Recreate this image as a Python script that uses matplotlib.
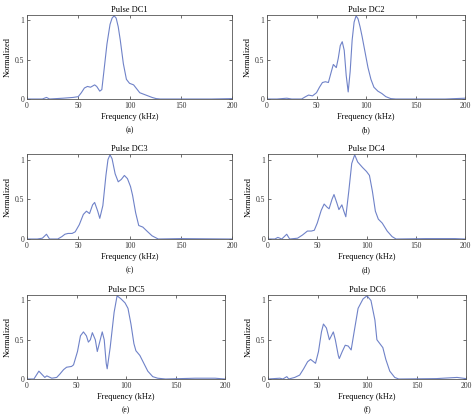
import matplotlib
matplotlib.use("Agg")
import matplotlib.pyplot as plt

# ---- data (frequency kHz, normalized amplitude) ----
f_dc1 = [0, 15, 19, 22, 35, 45, 50, 53, 56, 59, 62, 66, 68, 71, 73, 75, 78, 81, 83, 85, 87, 89, 91, 94, 97, 100, 104, 107, 110, 114, 118, 122, 126, 130, 180, 200]
a_dc1 = [0, 0, 0.02, 0, 0.01, 0.02, 0.03, 0.08, 0.14, 0.16, 0.15, 0.18, 0.16, 0.10, 0.12, 0.35, 0.70, 0.95, 1.03, 1.06, 1.03, 0.92, 0.75, 0.45, 0.25, 0.20, 0.18, 0.13, 0.08, 0.06, 0.04, 0.02, 0.005, 0, 0, 0.005]

f_dc2 = [0, 10, 20, 25, 35, 39, 42, 46, 50, 53, 56, 59, 62, 65, 67, 70, 72, 74, 76, 78, 80, 82, 84, 86, 88, 90, 92, 94, 96, 99, 102, 105, 108, 112, 116, 120, 125, 130, 180, 200]
a_dc2 = [0, 0, 0.01, 0, 0, 0.03, 0.05, 0.04, 0.08, 0.15, 0.21, 0.22, 0.21, 0.35, 0.44, 0.40, 0.52, 0.68, 0.73, 0.62, 0.30, 0.09, 0.35, 0.75, 0.98, 1.06, 1.02, 0.92, 0.80, 0.60, 0.40, 0.25, 0.15, 0.10, 0.07, 0.03, 0.005, 0, 0, 0.01]

f_dc3 = [0, 10, 15, 19, 22, 30, 34, 37, 40, 44, 47, 51, 55, 58, 61, 64, 66, 69, 71, 74, 77, 79, 81, 83, 86, 89, 92, 95, 98, 101, 103, 106, 109, 113, 117, 122, 128, 150, 200]
a_dc3 = [0, 0, 0.01, 0.06, 0, 0, 0.03, 0.06, 0.07, 0.07, 0.09, 0.18, 0.31, 0.35, 0.32, 0.43, 0.46, 0.35, 0.26, 0.42, 0.80, 1.00, 1.06, 1.01, 0.82, 0.72, 0.75, 0.80, 0.76, 0.66, 0.55, 0.33, 0.17, 0.15, 0.10, 0.04, 0, 0.005, 0]

f_dc4 = [0, 7, 10, 14, 19, 22, 30, 35, 40, 44, 47, 50, 54, 57, 60, 62, 65, 67, 70, 72, 75, 77, 79, 82, 85, 88, 91, 96, 100, 103, 106, 109, 112, 116, 121, 126, 130, 160, 190, 200]
a_dc4 = [0, 0, 0.02, 0, 0.06, 0, 0.01, 0.05, 0.10, 0.10, 0.11, 0.20, 0.36, 0.44, 0.40, 0.38, 0.50, 0.56, 0.45, 0.37, 0.43, 0.35, 0.28, 0.60, 0.95, 1.06, 0.97, 0.90, 0.85, 0.80, 0.60, 0.35, 0.25, 0.20, 0.10, 0.03, 0, 0.005, 0.005, 0]

f_dc5 = [0, 7, 10, 12, 15, 18, 20, 25, 30, 33, 37, 40, 45, 47, 51, 54, 57, 60, 62, 64, 66, 69, 71, 74, 76, 78, 80, 81, 84, 88, 91, 95, 99, 102, 105, 108, 110, 114, 118, 122, 127, 132, 140, 170, 190, 200]
a_dc5 = [0, 0, 0.06, 0.10, 0.06, 0.02, 0.04, 0.01, 0.02, 0.06, 0.12, 0.15, 0.16, 0.18, 0.35, 0.55, 0.60, 0.55, 0.47, 0.50, 0.59, 0.50, 0.35, 0.50, 0.60, 0.50, 0.20, 0.13, 0.40, 0.85, 1.06, 1.02, 0.97, 0.90, 0.70, 0.45, 0.36, 0.30, 0.20, 0.10, 0.03, 0.01, 0, 0.01, 0.01, 0]

f_dc6 = [0, 12, 15, 19, 21, 27, 32, 36, 40, 43, 46, 48, 51, 54, 56, 59, 62, 64, 66, 68, 71, 72, 75, 78, 81, 84, 87, 91, 96, 100, 104, 108, 110, 113, 116, 119, 123, 128, 132, 170, 191, 200]
a_dc6 = [0, 0.01, 0, 0.03, 0, 0.02, 0.05, 0.13, 0.22, 0.25, 0.22, 0.20, 0.35, 0.60, 0.70, 0.65, 0.50, 0.55, 0.60, 0.50, 0.30, 0.26, 0.35, 0.43, 0.42, 0.37, 0.60, 0.90, 1.02, 1.06, 1.00, 0.75, 0.50, 0.45, 0.40, 0.25, 0.10, 0.02, 0, 0.005, 0.02, 0.005]

titles = ["Pulse DC1", "Pulse DC2", "Pulse DC3", "Pulse DC4", "Pulse DC5", "Pulse DC6"]
letters = ["(a)", "(b)", "(c)", "(d)", "(e)", "(f)"]
series = [(f_dc1, a_dc1), (f_dc2, a_dc2), (f_dc3, a_dc3),
          (f_dc4, a_dc4), (f_dc5, a_dc5), (f_dc6, a_dc6)]

plt.rcParams["font.family"] = ["Liberation Serif", "DejaVu Serif"]
W, H = 474, 415
fig = plt.figure(figsize=(W / 100, H / 100), dpi=100)

# axes rectangles in pixels: left, top, right, bottom
rects = [(27, 15, 232, 99), (267, 15, 465, 99),
         (27, 154, 232, 239), (268, 154, 465, 239),
         (27, 295, 225, 379), (268, 295, 466, 379)]

LINE = "#6f82c8"
for (x, y), t, lab, (l, tp, r, b) in zip(series, titles, letters, rects):
    ax = fig.add_axes([l / W, 1 - b / H, (r - l) / W, (b - tp) / H])
    ax.plot(x, y, color=LINE, lw=0.8)
    ax.set_xlim(0, 200)
    ax.set_ylim(0, 1.07)
    ax.set_xticks([0, 50, 100, 150, 200])
    ax.set_yticks([0, 0.5, 1])
    ax.set_yticklabels(["0", "0.5", "1"])
    ax.tick_params(direction="in", labelsize=5.5, length=2, width=0.5,
                   top=True, right=True, pad=2, colors="#333333")
    for s in ax.spines.values():
        s.set_linewidth(0.6)
        s.set_color("#555555")
    ax.set_title(t, fontsize=6, pad=2.5)
    ax.set_xlabel("Frequency (kHz)", fontsize=6, labelpad=2)
    ax.set_ylabel("Normalized", fontsize=6, labelpad=2)
    ax.text(0.5, -0.37, lab, transform=ax.transAxes, ha="center",
            va="center", fontsize=5.5)

fig.savefig("out.png", dpi=100)
